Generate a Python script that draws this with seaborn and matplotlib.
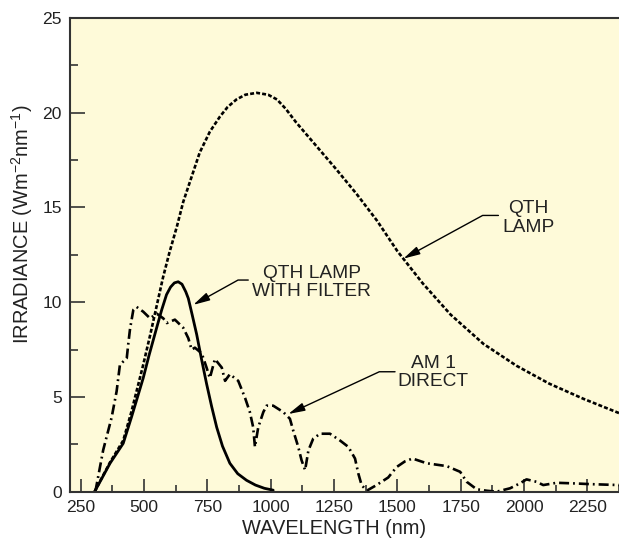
import matplotlib
matplotlib.use("Agg")
import matplotlib.pyplot as plt
import seaborn as sns
from matplotlib.ticker import MultipleLocator

# QTH lamp (dotted)
wl_qth = [305, 366, 418, 450, 497, 525, 550, 575, 600, 630, 655, 690, 720, 760, 800, 830, 865,
          900, 945, 990, 1025, 1060, 1100, 1180, 1260, 1340, 1420, 1500, 1600, 1710, 1840,
          1970, 2100, 2235, 2375]
irr_qth = [0.0, 1.55, 2.7, 4.2, 6.7, 8.3, 9.8, 11.3, 12.6, 14.0, 15.3, 16.7, 17.9, 19.0, 19.8, 20.3, 20.7,
           20.95, 21.05, 20.95, 20.7, 20.2, 19.5, 18.25, 17.0, 15.7, 14.3, 12.7, 11.0, 9.35, 7.8,
           6.65, 5.7, 4.9, 4.15]

# QTH lamp with filter (solid)
wl_filt = [305, 366, 418, 451, 497, 520, 550, 570, 589, 605, 620, 635, 650, 665, 675, 690, 708,
           727, 747, 767, 787, 810, 839, 870, 905, 940, 975, 1010]
irr_filt = [0.0, 1.5, 2.55, 3.95, 6.0, 7.2, 8.65, 9.6, 10.4, 10.8, 11.02, 11.08, 10.95, 10.55, 10.2, 9.35, 8.3,
            7.0, 5.7, 4.5, 3.4, 2.4, 1.5, 0.95, 0.6, 0.35, 0.18, 0.08]

# AM 1 direct (dash-dot)
wl_am1 = [308, 339, 372, 392, 405, 432, 438, 445, 458, 471, 497, 524, 550, 576, 590,
          622, 655, 675, 688, 701, 728, 747, 760, 780, 807, 820, 839, 872, 899, 918,
          931, 938, 951, 971, 984, 1010, 1050, 1076, 1089, 1109, 1122, 1136, 1149, 1168, 1195,
          1234, 1274, 1307, 1333, 1346, 1359, 1379, 1418, 1464, 1497, 1530, 1560, 1616, 1695, 1748,
          1774, 1813, 1853, 1892, 1945, 1984, 2010, 2050, 2076, 2129, 2194, 2260, 2375]
irr_am1 = [0.0, 2.2, 3.9, 5.3, 6.7, 7.05, 7.8, 8.6, 9.6, 9.75, 9.5, 9.15, 9.4, 9.15, 8.9,
           9.08, 8.65, 8.1, 7.5, 7.6, 7.3, 6.55, 6.0, 7.0, 6.55, 5.85, 6.2, 5.85, 4.95, 4.2,
           3.4, 2.36, 3.4, 4.2, 4.54, 4.54, 4.2, 3.85, 3.23, 2.36, 1.66, 1.14, 2.18, 2.8, 3.06,
           3.06, 2.7, 2.36, 1.75, 0.96, 0.35, 0.05, 0.35, 0.75, 1.3, 1.6, 1.75, 1.5, 1.35, 1.05,
           0.52, 0.13, 0.05, 0.0, 0.18, 0.44, 0.65, 0.52, 0.35, 0.47, 0.44, 0.4, 0.35]

sns.set_style("ticks")
plt.rcParams["font.family"] = ["Liberation Sans", "DejaVu Sans"]
plt.rcParams["mathtext.fontset"] = "custom"
plt.rcParams["mathtext.rm"] = "Liberation Sans"
plt.rcParams["mathtext.it"] = "Liberation Sans:italic"
plt.rcParams["mathtext.bf"] = "Liberation Sans:bold"

fig = plt.figure(figsize=(6.19, 5.47), dpi=100)
ax = fig.add_axes([0.1131, 0.1011, 0.8869, 0.866])
ax.set_facecolor("#fefad9")

sns.lineplot(x=wl_qth, y=irr_qth, ax=ax, color="black", lw=1.9,
             linestyle=(0, (1.5, 0.8)), estimator=None, sort=False)
sns.lineplot(x=wl_filt, y=irr_filt, ax=ax, color="black", lw=2.0,
             estimator=None, sort=False)
sns.lineplot(x=wl_am1, y=irr_am1, ax=ax, color="black", lw=1.9,
             linestyle=(0, (3.8, 1.5, 0.7, 1.5)), estimator=None, sort=False)

ax.set_xlim(208, 2375)
ax.set_ylim(0, 25)
ax.xaxis.set_major_locator(MultipleLocator(250))
ax.xaxis.set_minor_locator(MultipleLocator(125))
ax.yaxis.set_major_locator(MultipleLocator(5))
ax.yaxis.set_minor_locator(MultipleLocator(2.5))

ax.tick_params(which="both", direction="in", width=1.2, color="#333333",
               labelsize=12.6, labelcolor="#222222")
ax.tick_params(axis="x", which="major", length=9.5, pad=6)
ax.tick_params(axis="x", which="minor", length=5)
ax.tick_params(axis="y", which="major", length=10.5, pad=6)
ax.tick_params(axis="y", which="minor", length=5.8)

ax.spines["right"].set_visible(False)
for s in ["left", "bottom", "top"]:
    ax.spines[s].set_linewidth(1.5)
    ax.spines[s].set_color("#333333")

ax.set_xlabel("WAVELENGTH (nm)", fontsize=14.4, color="#222222")
ax.xaxis.set_label_coords(0.481, -0.078)
ax.xaxis.label.set_va("center")
ax.set_ylabel(r"IRRADIANCE (Wm$^{-2}$nm$^{-1}$)", fontsize=14.4, color="#222222")
ax.yaxis.set_label_coords(-0.0874, 0.565)
ax.yaxis.label.set_va("center")

arrow = dict(arrowstyle="-|>,head_length=1.0,head_width=0.25", color="black",
             lw=1.0, shrinkA=0, shrinkB=0, mutation_scale=10)

ax.text(2017, 14.45, "QTH\nLAMP", ha="center", va="center", fontsize=13.8,
        linespacing=1.1, color="#222222")
ax.annotate("", xy=(1524, 12.3), xytext=(1899, 14.58),
            arrowprops=dict(arrow, connectionstyle="angle,angleA=0,angleB=28.6,rad=0"))

ax.text(1162, 11.04, "QTH LAMP\nWITH FILTER", ha="center", va="center", fontsize=13.8,
        linespacing=1.1, color="#222222")
ax.annotate("", xy=(694.5, 9.86), xytext=(911.6, 11.17),
            arrowprops=dict(arrow, connectionstyle="angle,angleA=0,angleB=29,rad=0"))

ax.text(1642, 6.28, "AM 1\nDIRECT", ha="center", va="center", fontsize=13.8,
        linespacing=1.1, color="#222222")
ax.annotate("", xy=(1069.6, 4.1), xytext=(1491, 6.33),
            arrowprops=dict(arrow, connectionstyle="angle,angleA=0,angleB=24.9,rad=0"))

plt.savefig("out.png", dpi=100)
